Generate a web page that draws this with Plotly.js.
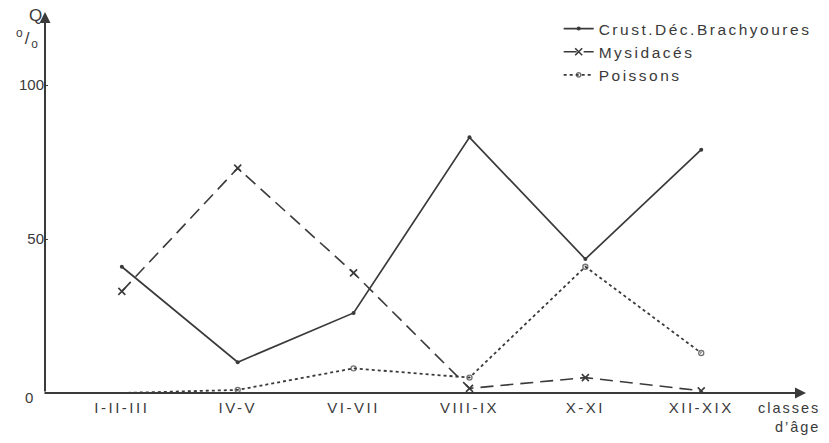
<!DOCTYPE html>
<html><head><meta charset="utf-8">
<script src="https://cdn.plot.ly/plotly-3.0.1.min.js"></script>
<style>
body{margin:0;background:#fff}
#c{width:829px;height:443px}
.xtick text{letter-spacing:2.5px}
.legendtext{letter-spacing:2.5px}
.annotation-text{letter-spacing:2px}
</style></head><body><div id="c"></div>
<script>
const categories = ["I-II-III","IV-V","VI-VII","VIII-IX","X-XI","XII-XIX"];
const crustacesBrachyoures = [41, 10, 26, 83, 43.5, 79];
const mysidaces = [33, 73, 39, 1.5, 5, 0.7];
const poissons = [0, 1, 8, 5, 41, 13];
const seriesNames = ["Crust.Déc.Brachyoures","Mysidacés","Poissons"];
const yTickVals = [50, 100];
const yTickText = ["50","100"];

const ink = "#3a3a3a";
const font = {family:"Liberation Sans, Arial, sans-serif", color:ink};

const traces = [
 {x:categories, y:crustacesBrachyoures, name:seriesNames[0], mode:"lines+markers",
  line:{color:ink,width:1.7}, marker:{symbol:"circle",size:4,color:ink}},
 {x:categories, y:mysidaces, name:seriesNames[1], mode:"lines+markers",
  line:{color:ink,width:1.6,dash:"13px,7px"}, marker:{symbol:"x-thin",size:7,line:{color:ink,width:1.6}}},
 {x:categories, y:poissons, name:seriesNames[2], mode:"lines+markers",
  line:{color:ink,width:1.8,dash:"dot"},
  marker:{symbol:"circle-open",size:[0,5,5,5,5,5],color:ink,line:{color:ink,width:1.4}}}
];

const layout = {
 width:829, height:443,
 margin:{l:45, r:21, t:12, b:50},
 paper_bgcolor:"#fff", plot_bgcolor:"#fff",
 font:Object.assign({size:15}, font),
 showlegend:true,
 legend:{x:0.675, y:1, xanchor:"left", yanchor:"top", bgcolor:"rgba(0,0,0,0)",
   font:Object.assign({size:15.5}, font), tracegroupgap:0, itemwidth:30},
 xaxis:{type:"category", range:[-0.663, 5.904], showgrid:false, zeroline:false,
   showline:false, ticks:"", ticklabelstandoff:4, tickfont:Object.assign({size:15}, font), fixedrange:true},
 yaxis:{range:[0, 123.7], showgrid:false, zeroline:false, showline:false,
   tickvals:yTickVals, ticktext:yTickText, ticks:"inside", ticklen:3, tickcolor:ink,
   tickfont:Object.assign({size:15}, font), fixedrange:true},
 annotations:[
  {xref:"paper", yref:"paper", x:1, y:0, ax:-763, ay:0, axref:"pixel", ayref:"pixel",
   showarrow:true, arrowhead:2, arrowsize:1.1, arrowwidth:2, arrowcolor:ink, text:""},
  {xref:"paper", yref:"paper", x:0, y:1, ax:0, ay:381, showarrow:true, arrowhead:2,
   arrowsize:1.1, arrowwidth:2, arrowcolor:ink, text:""},
  {xref:"paper", yref:"paper", x:-0.02, y:0, yshift:-15, xanchor:"center", showarrow:false,
   text:"0", font:Object.assign({size:15}, font)},
  {xref:"paper", yref:"paper", x:0.0, y:1, yshift:-3, xshift:1, xanchor:"right", yanchor:"middle",
   showarrow:false, text:"Q", font:Object.assign({size:17}, font)},
  {xref:"paper", yref:"paper", x:-0.004, y:0.93, xanchor:"right", yanchor:"middle",
   showarrow:false, text:"<sup>o</sup>/<sub>o</sub>", font:Object.assign({size:17}, font)},
  {xref:"paper", yref:"paper", x:1.021, y:0, yshift:-5, xanchor:"right", yanchor:"top",
   align:"right", showarrow:false, text:"classes<br>d’âge", font:Object.assign({size:14.5}, font)}
 ]
};
Plotly.newPlot("c", traces, layout, {staticPlot:true});
</script></body></html>
